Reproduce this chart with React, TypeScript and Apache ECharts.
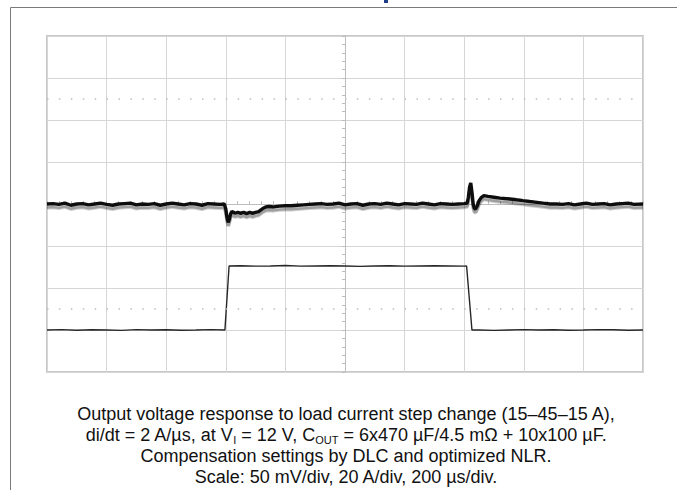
import React, { useEffect, useRef } from "react";
import * as echarts from "echarts";

// Oscilloscope: 10 divisions x 200 µs, 8 divisions vertical
const timeMinUs = 0;
const timeMaxUs = 2000;
const timeDivUs = 200;

// Output voltage deviation (AC coupled), 50 mV/div, centred at 0 mV
const voltMinMv = -200;
const voltMaxMv = 200;
const voltDivMv = 50;

// Load current, 20 A/div, 15 A sits one division above the bottom
const currMinA = -5;
const currMaxA = 155;

const voltTimesUs = [
  0, 20, 40, 60, 80, 100, 120, 140, 160, 180, 200, 220, 240, 260, 280, 300, 320, 340, 360, 380,
  400, 420, 440, 460, 480, 500, 520, 540, 560, 580, 595,
  600, 604, 608, 612, 616, 620, 626, 632, 640, 650, 660, 670, 680, 690, 700, 710, 718, 726, 734,
  745, 760, 780, 800, 820, 840, 860, 880, 900,
  920, 940, 960, 980, 1000, 1020, 1040, 1060, 1080, 1100, 1120, 1140, 1160, 1180, 1200, 1220,
  1240, 1260, 1280, 1300, 1320, 1340, 1360, 1380, 1400,
  1410, 1414, 1418, 1422, 1426, 1430, 1434, 1438, 1444, 1450, 1458, 1466, 1480, 1500, 1520,
  1554, 1575, 1597, 1620, 1644, 1665, 1688,
  1710, 1730, 1750, 1770, 1790, 1810, 1830, 1850, 1870, 1890, 1910, 1930, 1950, 1970, 2000,
];
const voltMv = [
  0, 0.5, -0.5, 1, -1.5, 0, 0.5, -1, 0, 1, -0.5, -1.5, 0, 0.5, 1, -1, 0, -0.5, 0.5, -1.5,
  0, 1, 0, -1, 0.5, 0, -1.5, 0.5, 0, -0.5, 0,
  -6, -16, -22, -18, -12, -9, -10, -11, -10, -11, -10, -11.5, -10, -11, -10, -9, -7, -5, -3.5,
  -3, -3.5, -2.5, -2, -2, -1.5, -1, -0.5, 0,
  0.5, -0.5, 0, 1, -1, 0, 0.5, -1.5, 0, 0.5, -0.5, 1, 0, -1, 0.5, 0,
  -0.5, 1, 0, -1, 0.5, 0, -0.5, 0, 0.5,
  1, 8, 20, 25, 14, 0, -5, -6, -2, 4, 8, 10, 9, 8, 7,
  6, 5, 4, 3, 2, 1, 0,
  0, -0.5, 0.5, -1, 0, 1, -0.5, 0, 0.5, -1, 0, 0.5, 1, -0.5, 0,
];

const currTimesUs = [
  0, 50, 100, 150, 200, 250, 300, 350, 400, 450, 500, 550, 597,
  611, 650, 700, 750, 800, 850, 900, 950, 1000, 1050, 1100, 1150, 1200, 1250, 1300, 1350, 1400, 1408,
  1426, 1450, 1500, 1550, 1600, 1650, 1700, 1750, 1800, 1850, 1900, 1950, 2000,
];
const currA = [
  15, 15.2, 14.9, 15.1, 15, 14.8, 15.2, 15, 15.1, 14.9, 15, 15.2, 15,
  45.5, 45.6, 45.4, 45.5, 45.7, 45.4, 45.5, 45.6, 45.5, 45.3, 45.5, 45.6, 45.4, 45.5, 45.6, 45.5, 45.4, 45.5,
  15, 15, 14.8, 15, 15.2, 15, 15.1, 14.9, 15, 15.2, 15.1, 14.9, 15,
];

// dotted scope cursors (mV)
const cursorLevelsMv = [125, -125];

const captionLines = [
  "Output voltage response to load current step change (15–45–15 A),",
  "di/dt = 2 A/µs, at V{sub|I} = 12 V, C{sub|OUT} = 6x470 µF/4.5 mΩ + 10x100 µF.",
  "Compensation settings by DLC and optimized NLR.",
  "Scale: 50 mV/div, 20 A/div, 200 µs/div.",
];

const GRID_COLOR = "#d6d6d6";
const CENTER_COLOR = "#bdbdbd";
const FONT = "'Liberation Sans', Arial, Helvetica, sans-serif";

export default function App() {
  const ref = useRef<HTMLDivElement>(null);

  useEffect(() => {
    document.body.style.margin = "0";
    if (!ref.current) return;
    const chart = echarts.init(ref.current, null, { renderer: "svg" });

    const hiddenAxisBits = {
      axisLine: { show: false, onZero: false },
      axisTick: { show: false },
      axisLabel: { show: false },
    };

    chart.setOption({
      animation: false,
      backgroundColor: "#ffffff",
      grid: {
        left: 47,
        top: 36,
        width: 596,
        height: 336,
        show: true,
        borderColor: "#c8c8c8",
        borderWidth: 2,
        backgroundColor: "transparent",
        containLabel: false,
        outerBoundsMode: "none",
      },
      xAxis: [
        {
          type: "value",
          min: timeMinUs,
          max: timeMaxUs,
          interval: timeDivUs,
          ...hiddenAxisBits,
          splitLine: { show: true, lineStyle: { color: GRID_COLOR, width: 1 } },
        },
        {
          // centre-referenced helper axis, used only to place the centre graticule
          type: "value",
          min: -(timeMaxUs - timeMinUs) / 2,
          max: (timeMaxUs - timeMinUs) / 2,
          show: false,
          axisLine: { show: false, onZero: false },
          splitLine: { show: false },
        },
        {
          // centre horizontal graticule with minor ticks
          type: "value",
          min: timeMinUs,
          max: timeMaxUs,
          interval: timeDivUs,
          axisLine: { show: true, onZero: true, onZeroAxisIndex: 0, lineStyle: { color: CENTER_COLOR, width: 1 } },
          axisTick: { show: true, length: 3, lineStyle: { color: CENTER_COLOR } },
          minorTick: { show: true, splitNumber: 5, length: 3, lineStyle: { color: CENTER_COLOR } },
          axisLabel: { show: false },
          splitLine: { show: false },
        },
      ],
      yAxis: [
        {
          type: "value",
          min: voltMinMv,
          max: voltMaxMv,
          interval: voltDivMv,
          ...hiddenAxisBits,
          splitLine: { show: true, lineStyle: { color: GRID_COLOR, width: 1 } },
        },
        {
          type: "value",
          min: currMinA,
          max: currMaxA,
          position: "right",
          ...hiddenAxisBits,
          splitLine: { show: false },
        },
        {
          // centre vertical graticule with minor ticks
          type: "value",
          min: voltMinMv,
          max: voltMaxMv,
          interval: voltDivMv,
          position: "left",
          axisLine: { show: true, onZero: true, onZeroAxisIndex: 1, lineStyle: { color: CENTER_COLOR, width: 1 } },
          axisTick: { show: true, length: 3, lineStyle: { color: CENTER_COLOR } },
          minorTick: { show: true, splitNumber: 5, length: 3, lineStyle: { color: CENTER_COLOR } },
          axisLabel: { show: false },
          splitLine: { show: false },
        },
      ],
      series: [
        {
          name: "Load current",
          type: "line",
          xAxisIndex: 0,
          yAxisIndex: 1,
          data: currTimesUs.map((t, i) => [t, currA[i]]),
          symbol: "none",
          lineStyle: { color: "#262626", width: 1.4 },
          z: 4,
          silent: true,
        },
        {
          name: "Output voltage",
          type: "line",
          xAxisIndex: 0,
          yAxisIndex: 0,
          data: voltTimesUs.map((t, i) => [t, voltMv[i]]),
          symbol: "none",
          lineStyle: {
            color: "#111111",
            width: 3.4,
            shadowColor: "rgba(0,0,0,0.38)",
            shadowOffsetY: 3.5,
            shadowBlur: 0,
          },
          z: 5,
          silent: true,
          markLine: {
            silent: true,
            symbol: "none",
            label: { show: false },
            lineStyle: { color: "#bdbdbd", width: 1.5, type: [1.5, 10.42], cap: "butt" },
            data: cursorLevelsMv.map((v) => ({ yAxis: v })),
          },
        },
      ],
      graphic: [
        {
          type: "polyline",
          silent: true,
          shape: { points: [[10.5, 490], [10.5, 7.5], [677, 7.5]] },
          style: { stroke: "#7a7a7a", lineWidth: 1, fill: "none" },
        },
        {
          type: "rect",
          silent: true,
          shape: { x: 384, y: 0, width: 4, height: 3 },
          style: { fill: "#1f3c88" },
        },
        {
          type: "text",
          silent: true,
          x: 346,
          y: 403,
          style: {
            text: captionLines.join("\n"),
            align: "center",
            verticalAlign: "top",
            fontSize: 18,
            fontFamily: FONT,
            lineHeight: 21,
            fill: "#111111",
            rich: {
              sub: { fontSize: 11, fontFamily: FONT, lineHeight: 10, verticalAlign: "bottom", fill: "#111111" },
            },
          },
        },
      ],
    });

    return () => chart.dispose();
  }, []);

  return <div ref={ref} style={{ width: 677, height: 490 }} />;
}
